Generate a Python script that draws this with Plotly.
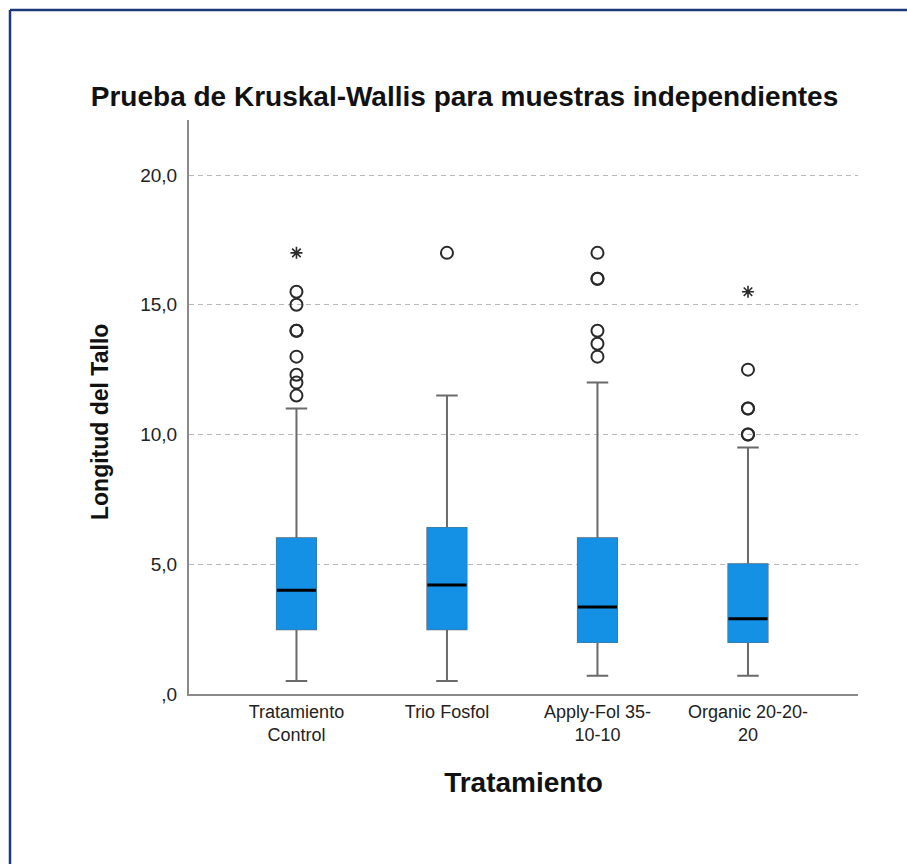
import plotly.graph_objects as go

# Five-number summaries per treatment (stem length)
categories = ["Tratamiento<br>Control", "Trio Fosfol", "Apply-Fol 35-<br>10-10", "Organic 20-20-<br>20"]
q1 = [2.5, 2.5, 2.0, 2.0]
medians = [4.0, 4.2, 3.35, 2.9]
q3 = [6.0, 6.4, 6.0, 5.0]
lower_whisker = [0.5, 0.5, 0.7, 0.7]
upper_whisker = [11.0, 11.5, 12.0, 9.5]

# Outliers (circles) and extreme values (asterisks) per treatment
outliers = [
    [11.5, 12.0, 12.3, 13.0, 14.0, 14.0, 15.0, 15.5],
    [17.0],
    [13.0, 13.5, 14.0, 16.0, 16.0, 17.0],
    [10.0, 10.0, 11.0, 11.0, 12.5],
]
extremes = [[17.0], [], [], [15.5]]

y_ticks = [0, 5, 10, 15, 20]
y_tick_text = [",0", "5,0", "10,0", "15,0", "20,0"]

positions = list(range(len(categories)))
BOX_W = 0.26
FILL = "#1490e4"
WHISKER = "#6a6a6a"

fig = go.Figure()

for i, pos in enumerate(positions):
    # whiskers and caps
    fig.add_trace(go.Box(
        x=[pos], q1=[q1[i]], median=[medians[i]], q3=[q3[i]],
        lowerfence=[lower_whisker[i]], upperfence=[upper_whisker[i]],
        width=BOX_W, whiskerwidth=0.55, fillcolor="rgba(0,0,0,0)",
        line=dict(color=WHISKER, width=2), boxpoints=False,
        hoverinfo="skip", showlegend=False,
    ))
    # filled interquartile box
    fig.add_trace(go.Box(
        x=[pos], q1=[q1[i]], median=[medians[i]], q3=[q3[i]],
        lowerfence=[q1[i]], upperfence=[q3[i]],
        width=BOX_W, whiskerwidth=0, fillcolor=FILL,
        line=dict(color=FILL, width=1), boxpoints=False,
        hoverinfo="skip", showlegend=False,
    ))
    # median bar
    fig.add_trace(go.Box(
        x=[pos], q1=[medians[i]], median=[medians[i]], q3=[medians[i]],
        lowerfence=[medians[i]], upperfence=[medians[i]],
        width=BOX_W, whiskerwidth=0, fillcolor="black",
        line=dict(color="black", width=3), boxpoints=False,
        hoverinfo="skip", showlegend=False,
    ))

# outlier circles
ox, oy = [], []
for pos, vals in zip(positions, outliers):
    ox += [pos] * len(vals)
    oy += vals
fig.add_trace(go.Scatter(
    x=ox, y=oy, mode="markers",
    marker=dict(symbol="circle-open", size=12, color="#2a2a2a", line=dict(width=2)),
    hoverinfo="skip", showlegend=False,
))

# extreme-value asterisks
ex, ey = [], []
for pos, vals in zip(positions, extremes):
    ex += [pos] * len(vals)
    ey += vals
fig.add_trace(go.Scatter(
    x=ex, y=ey, mode="markers",
    marker=dict(symbol="asterisk-open", size=10, color="#2a2a2a", line=dict(width=1.6)),
    hoverinfo="skip", showlegend=False,
))

W, H = 907, 864
L, R, T, B = 189, 49, 120, 170
pw, ph = W - L - R, H - T - B

def px_x(px):
    return (px - L) / pw

def px_y(py):
    return (H - B - py) / ph

fig.update_layout(
    width=W, height=H, autosize=False,
    margin=dict(l=L, r=R, t=T, b=B, pad=0),
    paper_bgcolor="white", plot_bgcolor="white",
    boxmode="overlay",
    font=dict(family="Liberation Sans, Arial, sans-serif", color="#222222"),
    title=dict(
        text="Prueba de Kruskal-Wallis para muestras independientes",
        font=dict(size=28, weight="bold", color="#111111"),
        xref="container", x=464.5 / W, xanchor="center",
        yref="container", y=1 - 96 / H, yanchor="middle",
    ),
    xaxis=dict(
        range=[-0.714, 3.731], tickmode="array", tickvals=positions, ticktext=categories,
        tickfont=dict(size=18, color="#222222"), ticks="", showgrid=False, zeroline=False,
        showline=True, linecolor="#8a8a8a", linewidth=2,
        title=dict(text="Tratamiento", font=dict(size=28, weight="bold", color="#111111"), standoff=28),
    ),
    yaxis=dict(
        range=[0, 22.12], tickmode="array", tickvals=y_ticks, ticktext=y_tick_text,
        tickfont=dict(size=19, color="#222222"), ticks="", ticklabelstandoff=6,
        showgrid=True, gridcolor="#b8b8b8", gridwidth=1, griddash="5px,4px",
        zeroline=False, showline=True, linecolor="#8a8a8a", linewidth=2,
    ),
    annotations=[dict(
        text="Longitud del Tallo", textangle=-90,
        xref="paper", yref="paper", x=px_x(100), y=px_y(422),
        xanchor="center", yanchor="middle", showarrow=False,
        font=dict(size=23, weight="bold", color="#111111"),
    )],
    shapes=[
        dict(type="line", xref="paper", yref="paper", x0=px_x(10), x1=px_x(W + 5),
             y0=px_y(10), y1=px_y(10), line=dict(color="#1c3a7a", width=2.5)),
        dict(type="line", xref="paper", yref="paper", x0=px_x(10), x1=px_x(10),
             y0=px_y(10), y1=px_y(H + 5), line=dict(color="#1c3a7a", width=2.5)),
    ],
)

fig.write_html("out.html")
